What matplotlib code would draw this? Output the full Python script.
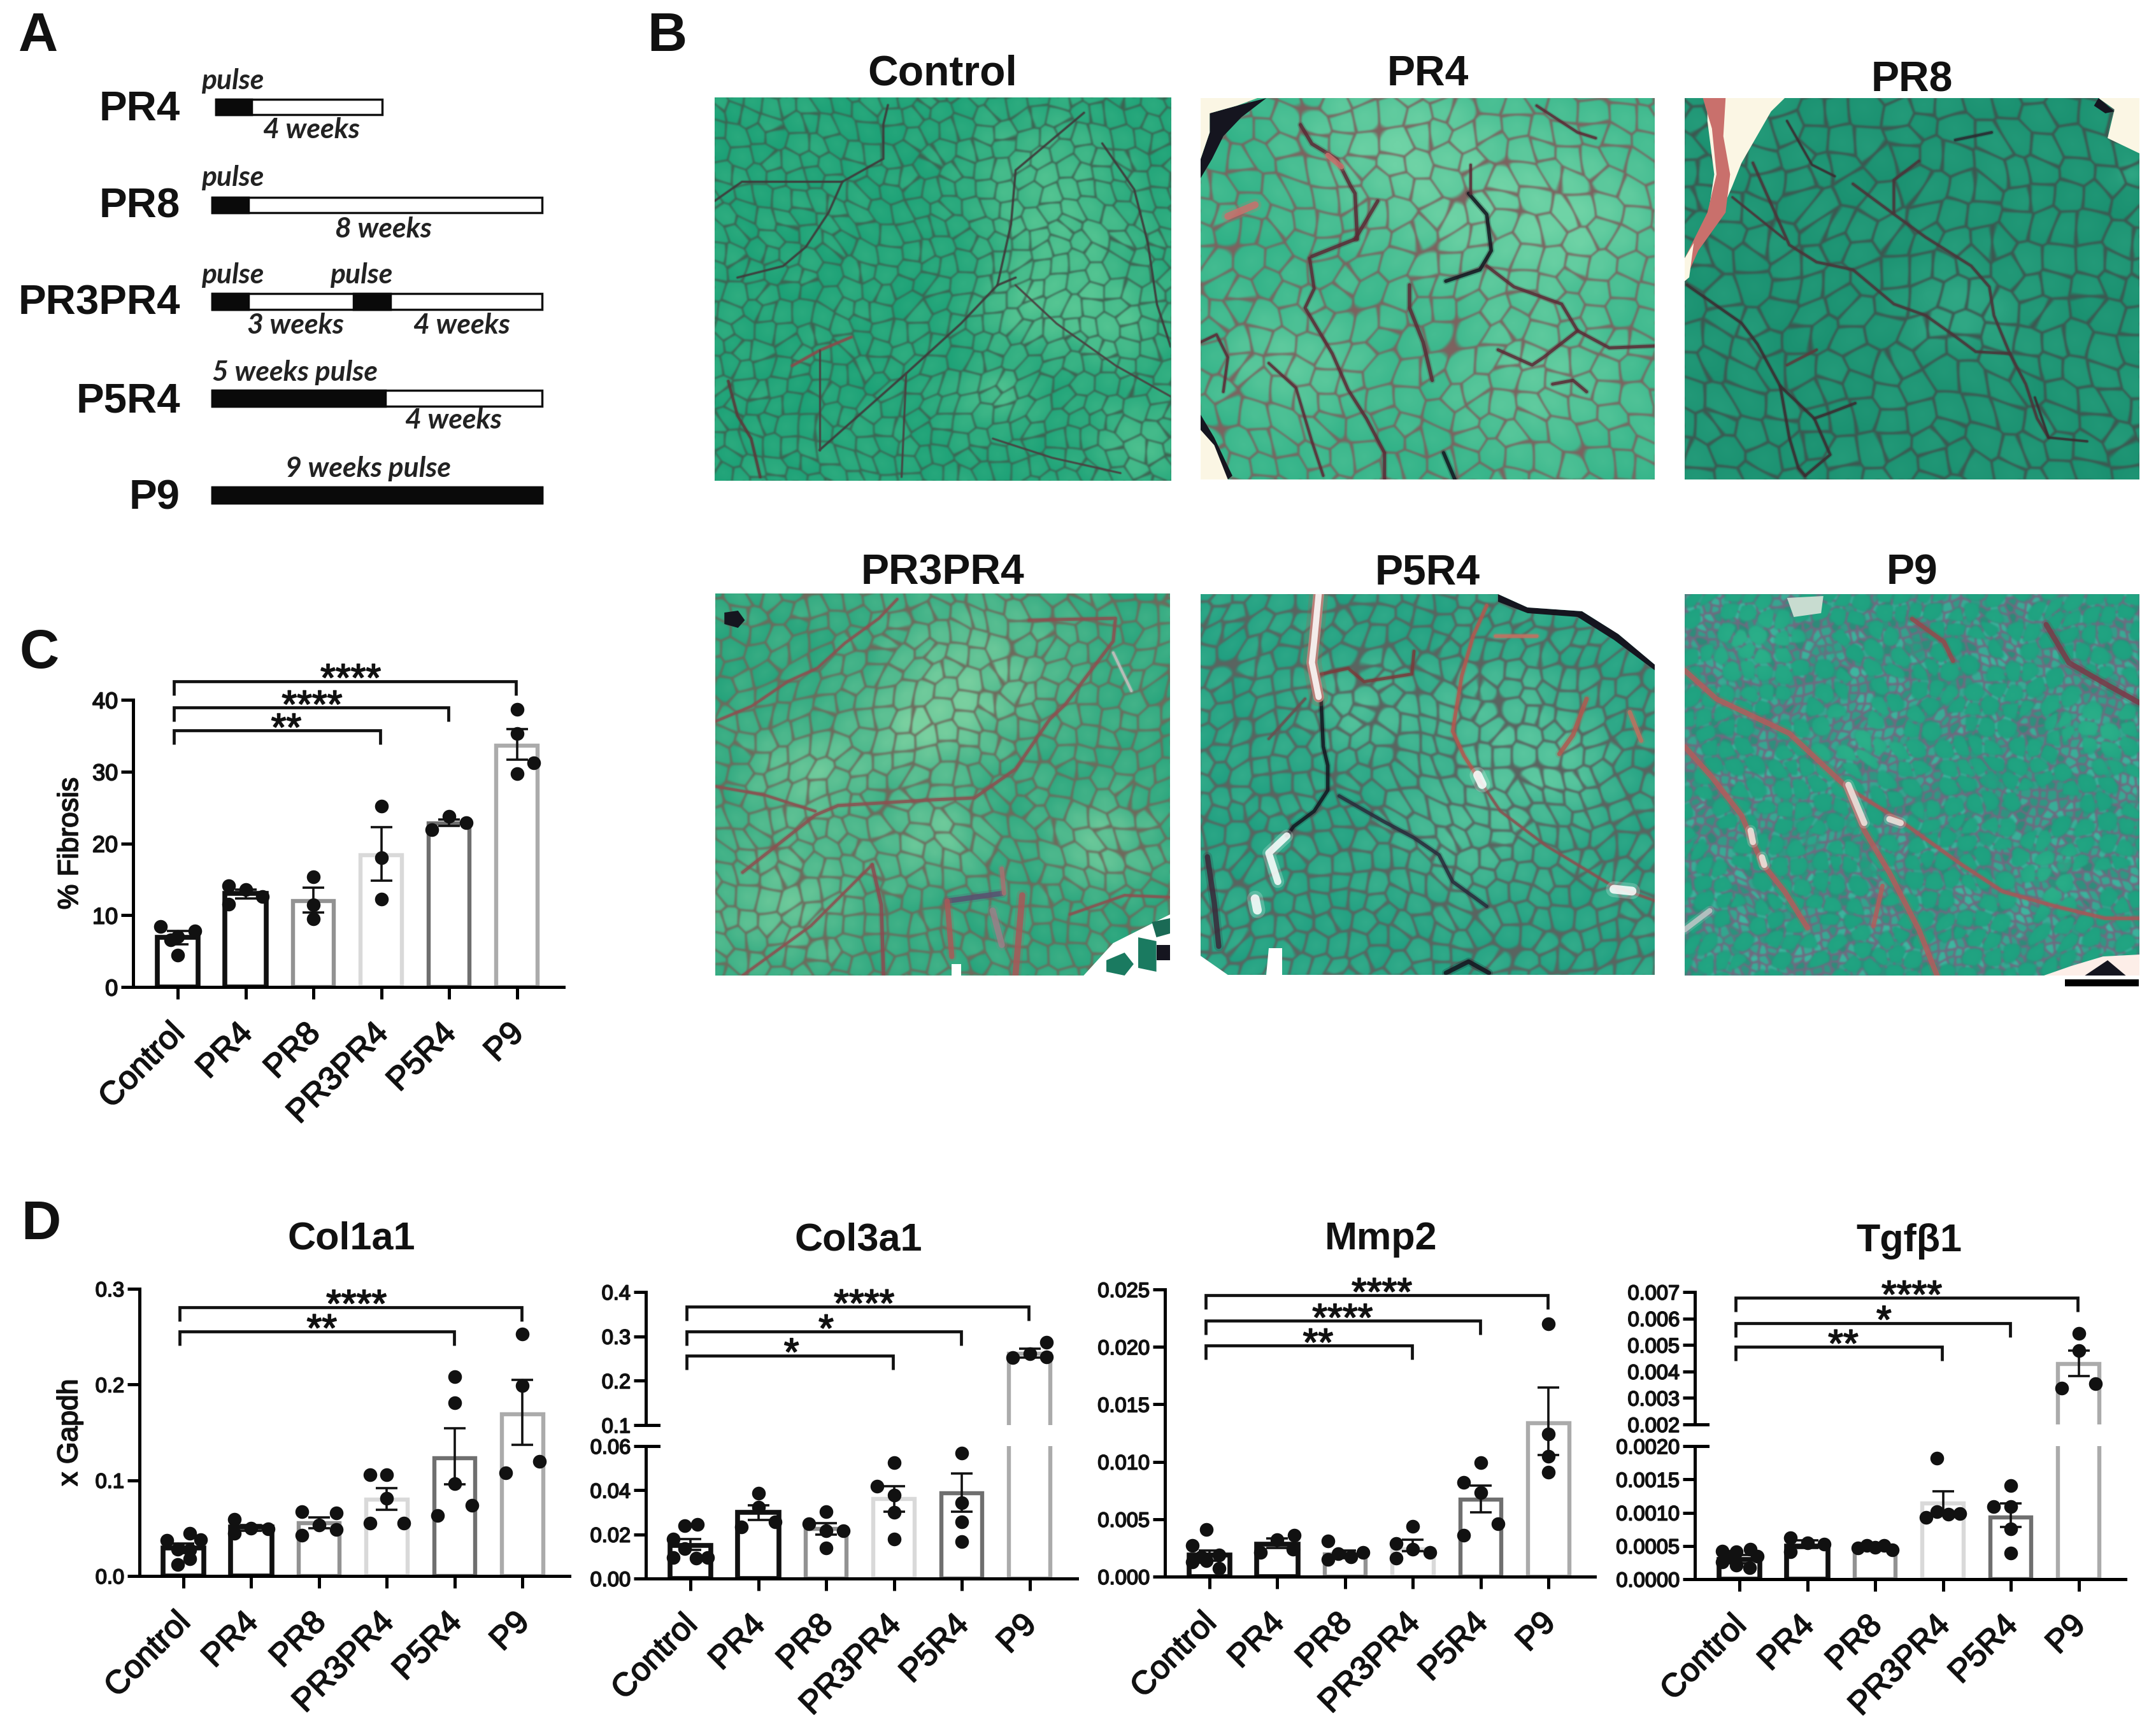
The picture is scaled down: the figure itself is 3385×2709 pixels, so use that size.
import numpy as np
import matplotlib
matplotlib.use('Agg')
import matplotlib.pyplot as plt
from matplotlib.patches import Polygon, Rectangle
from matplotlib.patheffects import withStroke
from matplotlib.ticker import FormatStrFormatter
from matplotlib.transforms import ScaledTranslation

W, H = 3385, 2709
plt.rcParams['font.family'] = ['Liberation Sans', 'DejaVu Sans']
INK = '#111111'
HEAVY = [withStroke(linewidth=1.3, foreground=INK)]

groups = ['Control', 'PR4', 'PR8', 'PR3PR4', 'P5R4', 'P9']
bar_colors = ['#111111', '#111111', '#929292', '#d9d9d9', '#6f6f6f', '#ababab']

# panel C, % fibrosis
c_means = [6.9, 13.0, 12.0, 18.4, 22.8, 33.6]
c_up = [7.8, 13.6, 13.8, 22.3, 23.3, 35.9]
c_low = [5.9, 12.3, 10.4, 14.8, 22.4, 31.7]
c_points = [[8.4, 7.8, 7.0, 6.6, 4.4], [14.1, 13.6, 12.6, 11.5], [15.3, 11.4, 9.5],
            [25.2, 18.0, 12.2], [23.8, 22.9, 21.9], [38.7, 35.3, 31.2, 29.7]]
c_offs = [[-.25, .25, 0, -.1, 0], [-.25, 0, .25, -.25], [0, 0, 0],
          [0, 0, 0], [0, .25, -.25], [0, 0, .25, 0]]

# panel D, x Gapdh
col1_means = [.029, .051, .055, .080, .123, .169]
col1_up = [.034, .053, .061, .092, .154, .205]
col1_low = [.024, .047, .050, .069, .096, .137]
col1_points = [[.037, .0445, .0376, .028, .027, .012, .018], [.059, .0445, .05, .049],
               [.0675, .066, .0535, .0485, .0427], [.106, .106, .081, .055, .0555],
               [.208, .181, .0967, .0737, .063], [.2525, .199, .12, .108]]
col1_offs = [[-.24, .09, .25, -.08, .09, -.08, .09], [-.25, -.25, 0, .25],
             [-.25, .25, 0, .25, -.25], [-.25, 0, 0, -.25, .25],
             [0, 0, 0, .25, -.25], [0, 0, .25, -.25]]

col3_means = [.0151, .030, .0225, .036, .0386, .261]
col3_up = [.0178, .0332, .0252, .0417, .0477, .2728]
col3_low = [.0131, .0265, .0198, .0302, .0302, .2516]
col3_points = [[.0178, .0238, .0244, .0135, .0094, .0091, .0094], [.0386, .0324, .0233, .0257],
               [.0304, .0249, .0217, .0217, .0139], [.0524, .0419, .0378, .0301, .0178],
               [.0567, .0343, .0257, .0167], [.2516, .261, .254, .287]]
col3_offs = [[-.25, -.08, .1, -.08, -.25, .08, .25], [0, 0, -.25, .25],
             [0, -.25, .25, 0, 0], [0, -.25, 0, 0, 0],
             [0, 0, 0, 0], [-.25, 0, .25, .25]]

mmp2_means = [.0019, .0028, .00195, .0024, .0067, .01338]
mmp2_up = [.00225, .0033, .0023, .0032, .0079, .01645]
mmp2_low = [.0014, .0025, .0016, .0022, .0056, .0106]
mmp2_points = [[.0041, .0027, .0019, .0014, .0013, .0007, .0017], [.0032, .0036, .0021, .0024],
               [.0031, .002, .0017, .0021, .0015], [.0044, .0029, .0024, .0021, .0016],
               [.0099, .0082, .0073, .0046, .0036], [.022, .0124, .0105, .0091]]
mmp2_offs = [[-.05, -.25, .14, -.05, -.25, .14, -.12], [0, .25, -.25, .23],
             [-.25, -.1, .08, .26, -.25], [0, -.25, 0, .25, -.25],
             [0, -.25, 0, .25, -.25], [0, 0, 0, 0]]

tgf_means = [.0003, .0005, .00047, .00114, .00093, .00428]
tgf_up = [.00036, .00058, .00051, .00132, .00114, .00479]
tgf_low = [.00024, .00047, .00043, .00097, .00078, .00382]
tgf_points = [[.00042, .00041, .00045, .00034, .00034, .00026, .00021, .00017],
              [.00062, .00055, .00053, .00041], [.00047, .00051, .00048, .00051, .00044],
              [.00182, .00093, .00101, .00098, .00099], [.00141, .00109, .00109, .00076, .00039],
              [.00543, .00478, .00337, .00353]]
tgf_offs = [[-.25, -.05, .16, -.12, .26, -.25, -.05, .15], [-.25, 0, .25, -.25],
            [-.25, -.12, 0, .13, .25], [-.09, -.25, -.09, .08, .25], [0, -.25, 0, 0, 0],
            [0, 0, -.25, .25]]

# brackets: right end group, height, stars, x of the stars
c_brackets = [(5, 42.6, '****', 2.55), (4, 38.9, '****', 1.98), (3, 35.7, '**', 1.6)]
col1_brackets = [(5, .281, '****', 2.55), (4, .2555, '**', 2.04)]
col3_brackets = [(5, .367, '****', 2.56), (4, .3105, '*', 2.0), (3, .257, '*', 1.49)]
mmp2_brackets = [(5, .0245, '****', 2.54), (4, .02226, '****', 1.96), (3, .0201, '**', 1.6)]
tgf_brackets = [(5, .00678, '****', 2.54), (4, .00583, '*', 2.13), (3, .00493, '**', 1.53)]

# schematic in panel A
scheme_rows = ['PR4', 'PR8', 'PR3PR4', 'P5R4', 'P9']
scheme_base = [189, 342, 494, 647, 799]

# micrographs of panel B
panel_names = ['Control', 'PR4', 'PR8', 'PR3PR4', 'P5R4', 'P9']
panel_box = [(1122, 1838, 153, 755), (1885, 2598, 154, 753), (2645, 3359, 154, 753),
             (1123, 1837, 932, 1532), (1885, 2598, 933, 1531), (2645, 3359, 933, 1532)]
panel_title_y = [134, 134, 143, 918, 918, 918]
panel_cell = [30, 40, 44, 32, 32, 30]
panel_edge_px = [2, 2.5, 3, 2.5, 3, 3]
panel_round = [1.0, .85, 1.0, .85, .8, .62]
panel_fine = [0, 0, 0, 0, 0, 14]
panel_base = ['#1ba076', '#2eb086', '#1a9070', '#24a27b', '#1f9e80', '#1c9e7e']
panel_light = ['#58c794', '#6fd3a6', '#38b08c', '#7ad0a0', '#5cc8a0', '#2fb48c']
panel_edge = ['#3f6050', '#7d625f', '#3e5650', '#6f6a5c', '#5a6460', '#6f6a80']
panel_patches = [[(.72, .2, .16), (.78, .42, .16), (.68, .55, .1), (.88, .6, .12), (.92, .9, .1), (.62, .78, .08)],
                 [(.6, .3, .25), (.75, .75, .2), (.2, .7, .15), (.85, .3, .18), (.4, .1, .2)],
                 [(.6, .55, .12), (.98, .2, .03)],
                 [(.58, .2, .2), (.2, .47, .13), (.45, .35, .14), (.15, .8, .18), (.85, .65, .12), (.48, .63, .12)],
                 [(.35, .3, .12), (.6, .6, .2), (.65, .3, .15), (.8, .45, .12)],
                 [(.15, .13, .1), (.38, .38, .1), (.9, .35, .08), (.8, .75, .08)]]

RED = '#a8494f'
DARK = '#5c2a35'
BLK = '#15151f'
PINK = '#c9706c'
panel_fibres = {
    'Control': [(2.2, '#3f3a3a', [(.23, .92), (.42, .72), (.54, .59), (.62, .49), (.66, .47)]),
                (2.2, '#3f3a3a', [(.62, .49), (.65, .33), (.66, .19), (.81, .04)]),
                (2.2, '#3f3a3a', [(.85, .12), (.92, .24), (.95, .38), (.97, .54), (1, .65)]),
                (2.2, '#3f3a3a', [(0, .27), (.06, .22), (.23, .22), (.28, .22), (.37, .16), (.37, .07), (.38, .02)]),
                (2.2, '#3f3a3a', [(.28, .22), (.25, .30), (.2, .39), (.15, .44), (.05, .47)]),
                (3, '#8a4a4a', [(.17, .7), (.23, .66), (.3, .625)]),
                (3, '#5a3a3a', [(.03, .74), (.05, .83), (.08, .89), (.1, .99)]),
                (2, '#4a4040', [(.66, .49), (.75, .59), (.88, .70), (1, .78)]),
                (2, '#4a4040', [(.23, .66), (.23, .92)]),
                (2, '#4a4040', [(.42, .72), (.41, .99)]),
                (2, '#4a4040', [(.61, .89), (.74, .94), (.89, .98)])],
    'PR4': [(4, DARK, [(.22, .07), (.245, .12), (.3, .16), (.33, .23), (.34, .25), (.345, .37)]),
            (4, DARK, [(.34, .37), (.39, .27)]),
            (4, DARK, [(.34, .37), (.245, .415)]),
            (3.5, DARK, [(.24, .42), (.25, .5), (.23, .55), (.29, .67), (.325, .765), (.365, .84), (.405, .93), (.405, 1)]),
            (4, DARK, [(.46, .49), (.46, .55), (.49, .64), (.51, .74)]),
            (4, BLK, [(.59, .25), (.63, .305), (.64, .4), (.615, .45), (.54, .48)]),
            (3.5, DARK, [(.63, .44), (.69, .495), (.795, .54), (.83, .61), (.9, .655), (1, .65)]),
            (3, DARK, [(0, .64), (.035, .62), (.06, .68), (.05, .77)]),
            (3, DARK, [(.15, .695), (.21, .76), (.245, .9), (.27, .99)]),
            (3.5, DARK, [(.83, .61), (.755, .68), (.73, .7), (.655, .66)]),
            (3, DARK, [(.595, .175), (.595, .25)]),
            (3.5, DARK, [(.775, .75), (.82, .74), (.85, .77)]),
            (4, BLK, [(.535, .93), (.56, 1)]),
            (3, DARK, [(.74, .02), (.83, .09), (.87, .105)]),
            (8, PINK, [(.06, .31), (.12, .28)]),
            (6, PINK, [(.28, .15), (.31, .18)])],
    'PR8': [(3, '#4a3438', [(.37, .225), (.455, .3), (.53, .365), (.63, .44), (.67, .495), (.68, .57), (.715, .67), (.75, .75), (.775, .84), (.8, .89)]),
            (3, '#4a3438', [(.15, .17), (.23, .385), (.29, .43), (.37, .45), (.46, .54), (.53, .57), (.595, .625), (.64, .665), (.715, .67)]),
            (2.5, '#4a3438', [(.105, .26), (.22, .37)]),
            (3, '#3a2c30', [(.005, .49), (.125, .59), (.16, .645), (.21, .755), (.285, .84), (.32, .825), (.375, .8)]),
            (3, '#3a2c30', [(.21, .755), (.23, .89), (.25, .97), (.265, .99)]),
            (3, '#3a2c30', [(.285, .84), (.32, .935), (.265, .99)]),
            (3, '#4a3438', [(.515, .165), (.46, .215), (.46, .3)]),
            (2.5, '#3a2c30', [(.77, .785), (.8, .89), (.885, .9)]),
            (3, '#5a3c3c', [(.225, .7), (.29, .66)]),
            (3, '#2a2a30', [(.595, .11), (.675, .09)]),
            (2.5, '#3a2c30', [(.225, .06), (.28, .175), (.33, .205)])],
    'PR3PR4': [(3, '#8c5050', [(0, .335), (.08, .295), (.16, .23), (.225, .195), (.285, .13), (.36, .065), (.4, .015)]),
               (3.5, '#8c5050', [(.06, .73), (.22, .58), (.27, .555), (.48, .54), (.57, .535), (.66, .46), (.735, .33), (.77, .29), (.875, .125), (.88, .065), (.69, .07)]),
               (3, '#8c5050', [(0, .505), (.107, .527), (.22, .57)]),
               (4, '#8c4a50', [(.345, .71), (.365, .815), (.37, 1)]),
               (6, '#5a5070', [(.51, .805), (.63, .785)]),
               (6, '#a85a58', [(.51, .805), (.52, .95)]),
               (7, '#a85858', [(.675, .79), (.66, 1)]),
               (5, '#a87070', [(.63, .72), (.635, .785)]),
               (7, '#9a8088', [(.61, .83), (.63, .92)]),
               (3, '#8c5050', [(.06, 1), (.21, .87), (.345, .71)]),
               (3, '#8c5050', [(1, .795), (.9, .79), (.78, .84)]),
               (3, '#c9c0c0', [(.875, .155), (.915, .255)])],
    'P5R4': [(4, BLK, [(.265, .27), (.27, .4), (.28, .45), (.28, .515), (.25, .57), (.205, .61), (.19, .635)]),
             (4, '#b5564e', [(.63, .03), (.6, .11), (.575, .215), (.555, .36), (.58, .425), (.615, .49)]),
             (3, '#8a5050', [(.615, .49), (.66, .57), (.76, .66), (.905, .765), (1, .805)]),
             (4, '#2a2a3a', [(.305, .53), (.4, .595), (.47, .64), (.525, .685), (.555, .755), (.63, .82)]),
             (3.5, '#7a3a3a', [(.265, .21), (.325, .195), (.36, .23), (.465, .21), (.47, .15)]),
             (4, '#c87060', [(.65, .11), (.74, .11)]),
             (5, '#b05a50', [(.85, .275), (.82, .37), (.79, .42)]),
             (5, '#c0705f', [(.945, .31), (.97, .385)]),
             (3, '#6a5050', [(.15, .38), (.23, .275)]),
             (5, BLK, [(.54, .995), (.59, .965), (.635, .995)]),
             (6, '#3a2a3a', [(.015, .69), (.03, .81), (.04, .925)]),
             (12, '#b5564e', [(.26, 0), (.25, .125), (.245, .18), (.26, .27)]),
             (7, 'white', [(.26, 0), (.25, .125), (.245, .18), (.26, .27)]),
             (8, 'white', [(.19, .635), (.15, .68), (.17, .755)]),
             (10, 'white', [(.12, .8), (.125, .83)]),
             (10, 'white', [(.91, .775), (.95, .78)]),
             (10, 'white', [(.61, .475), (.62, .5)])],
    'P9': [(6, '#b25c5c', [(0, .2), (.07, .275), (.23, .365), (.355, .505), (.395, .62), (.45, .73), (.515, .88), (.555, 1)]),
           (6, '#b25c5c', [(0, .4), (.06, .48), (.125, .58), (.15, .65), (.17, .705), (.22, .78), (.27, .875)]),
           (4, '#a85658', [(.355, .505), (.475, .595), (.61, .71), (.7, .78), (.82, .82), (.925, .85), (1, .85)]),
           (5, '#96484c', [(.5, .065), (.57, .125), (.59, .175)]),
           (6, '#7a3a48', [(.795, .08), (.845, .18), (.925, .235), (1, .285)]),
           (5, '#b25c5c', [(.435, .765), (.415, .87)]),
           (7, '#f4e6e0', [(.36, .5), (.395, .6)]),
           (7, '#f4e6e0', [(.145, .62), (.15, .65)]),
           (7, '#f4e6e0', [(.17, .69), (.175, .71)]),
           (7, '#f4e6e0', [(.45, .59), (.475, .6)]),
           (6, '#c0c8c8', [(0, .88), (.055, .83)])],
}
CREAM = '#fbf6e4'
panel_holes = {
    'Control': [],
    'PR4': [(BLK, [(.145, 0), (.09, .05), (.05, .1), (.025, .16), (0, .21), (0, .16), (.02, .09), (.02, .04), (.08, .02)]),
            (CREAM, [(0, 0), (.125, 0), (.08, .02), (.02, .04), (.02, .09), (0, .16)]),
            (BLK, [(0, .83), (.03, .89), (.07, .99), (.06, 1), (0, .88)]),
            (CREAM, [(0, .87), (.03, .91), (.06, 1), (0, 1)])],
    'PR8': [(CREAM, [(.05, 0), (.22, 0), (.19, .035), (.125, .17), (.105, .23), (.08, .3), (.05, .32), (.065, .2), (.05, .06)]),
            (PINK, [(.04, 0), (.09, 0), (.085, .1), (.1, .2), (.09, .3), (.03, .4), (0, .48), (0, .42), (.05, .3), (.07, .2), (.06, .08)]),
            (CREAM, [(0, .42), (.02, .38), (.01, .47), (0, .48)]),
            (CREAM, [(.91, 0), (.945, .03), (.93, .105), (1, .145), (1, 0)]),
            (BLK, [(.91, 0), (.945, .035), (.925, .04), (.9, .02)])],
    'PR3PR4': [(BLK, [(.02, .05), (.05, .045), (.065, .07), (.05, .09), (.02, .08)]),
               ('white', [(.81, 1), (.875, .915), (1, .84), (1, 1)]),
               ('#1a7a60', [(.86, .96), (.9, .94), (.92, .97), (.9, 1), (.86, .99)]),
               ('#1a7a60', [(.93, .9), (.97, .91), (.97, .99), (.93, .98)]),
               (BLK, [(.97, .92), (1, .92), (1, .96), (.97, .96)]),
               ('#1a6a55', [(.96, .86), (1, .85), (1, .89), (.97, .9)]),
               ('white', [(.52, .97), (.54, .97), (.54, 1), (.52, 1)])],
    'P5R4': [(BLK, [(.655, 0), (.72, .035), (.84, .045), (.92, .105), (1, .185), (1, .2), (.91, .12), (.83, .06), (.72, .05), (.655, .02)]),
             ('white', [(.655, 0), (.72, .035), (.84, .045), (.92, .105), (1, .185), (1, 0)]),
             ('white', [(0, .95), (.06, 1), (0, 1)]),
             ('white', [(.15, .93), (.18, .93), (.18, 1), (.145, 1)])],
    'P9': [('#c8dcd0', [(.225, .01), (.305, .005), (.3, .05), (.24, .06)]),
           ('#fdeee8', [(.79, 1), (.85, .975), (.92, .95), (1, .945), (1, 1)]),
           (BLK, [(.88, 1), (.93, .96), (.97, 1)])],
}


def lattice(xs, ys, cell, seed):
    # nearest and second nearest point of a warped jittered lattice
    gx = (xs + 16 * np.sin(ys / 83. + seed) + 5 * np.sin(ys / 29. + 2 * seed)) / cell
    gy = (ys + 16 * np.sin(xs / 91. + seed) + 5 * np.sin(xs / 31. + 2 * seed)) / cell
    ix, iy = np.floor(gx), np.floor(gy)
    dists, vals = [], []
    for dx in (-1, 0, 1):
        for dy in (-1, 0, 1):
            cx, cy = ix + dx, iy + dy
            h1 = np.sin(cx * 12.9898 + cy * 78.233 + seed) * 43758.5453
            h2 = np.sin(cx * 39.346 + cy * 11.135 + seed) * 24634.6345
            h1, h2 = h1 - np.floor(h1), h2 - np.floor(h2)
            dists.append(np.hypot(cx + .15 + .7 * h1 - gx, cy + .15 + .7 * h2 - gy))
            vals.append(h2)
    dists, vals = np.array(dists), np.array(vals)
    order = np.argsort(dists, axis=0)
    near = np.take_along_axis(dists, order[:1], axis=0)[0]
    second = np.take_along_axis(dists, order[1:2], axis=0)[0]
    val = np.take_along_axis(vals, order[:1], axis=0)[0]
    return near, second, val


def tissue(w, h, cell, seed, base, light, edge, patches, edge_px, rad, fine):
    # cell pattern standing in for the photo, no data in it
    ys, xs = np.mgrid[0:h, 0:w].astype(float)
    near, second, val = lattice(xs, ys, cell, seed)
    t = edge_px / float(cell)
    mask = np.clip((second - near - .3 * t) / (1.6 * t), 0, 1) * np.clip((rad - near) / .16, 0, 1)

    base = np.array(matplotlib.colors.to_rgb(base))
    light = np.array(matplotlib.colors.to_rgb(light))
    edge = np.array(matplotlib.colors.to_rgb(edge))
    amount = .2 * val + .15 * np.clip(1 - near * 1.4, 0, 1)
    for px, py, r in patches:
        amount = amount + .55 * np.exp(-((xs / w - px) ** 2 + (ys / h - py) ** 2) / (r * r))
    amount = np.clip(amount, 0, 1)[..., None]
    img = base * (1 - amount) + light * amount
    img = img * (.88 + .12 * mask[..., None])
    back = np.ones_like(img) * edge
    if fine:
        # small fibres in a grey matrix, the big ones sit on top of them
        n2, s2, v2 = lattice(xs, ys, fine, seed + 3)
        m2 = np.clip((s2 - n2 - .1) / .25, 0, 1)[..., None]
        tiny = np.array(matplotlib.colors.to_rgb('#35a08c')) * (.85 + .3 * v2[..., None])
        back = edge * (1 - m2) + tiny * m2
        mask = mask * np.clip((val - .15) / .05, 0, 1)
    img = img * mask[..., None] + back * (1 - mask[..., None])
    # soften it a little, the source is a photo
    for n in range(2):
        for axis in (0, 1):
            img = (np.roll(img, 1, axis) + img + np.roll(img, -1, axis)) / 3.
    return np.clip(img, 0, 1)


def px_axes(fig, x0, x1, y_top, y_bottom):
    return fig.add_axes([x0 / W, 1 - y_bottom / H, (x1 - x0) / W, (y_bottom - y_top) / H])


def style_axis(ax, ylim, yticks, fmt, size):
    ax.set_ylim(*ylim)
    ax.set_yticks(yticks)
    ax.yaxis.set_major_formatter(FormatStrFormatter(fmt))
    ax.tick_params(axis='y', length=13.7, width=3.6, pad=3.5, labelsize=size, labelcolor=INK)
    ax.spines['left'].set_linewidth(3.6)
    ax.spines['bottom'].set_linewidth(3.6)
    ax.spines['right'].set_visible(False)
    ax.spines['top'].set_visible(False)
    ax.patch.set_alpha(0)
    for t in ax.get_yticklabels():
        t.set_path_effects(HEAVY)


def draw_bars(ax, means, up, low, points, offs, lo=None, hi=None):
    for i, m in enumerate(means):
        lw = 5.5 if i < 2 else 4.6
        ax.bar(i, m, width=.61, facecolor='white', edgecolor=bar_colors[i], linewidth=lw, zorder=2)
        if lo is None or lo <= m <= hi:
            ax.errorbar(i, m, yerr=[[m - low[i]], [up[i] - m]], color=INK, capsize=12.5,
                        elinewidth=2.6, capthick=2.6, zorder=4)
        for off, v in zip(offs[i], points[i]):
            if lo is None or lo <= v <= hi:
                ax.plot(i + off, v, 'o', color=INK, ms=15.5, mew=0, zorder=3, clip_on=False)


def draw_brackets(ax, brackets, leg):
    for end, y, stars, star_x in brackets:
        ax.plot([-.06, -.06, end - .01, end - .01], [y - leg, y, y, y - leg], color=INK,
                lw=3.4, solid_joinstyle='miter', solid_capstyle='butt', clip_on=False, zorder=5)
        ax.annotate(stars, (star_x, y), xytext=(0, -11), textcoords='offset points', ha='center',
                    va='baseline', fontsize=44, color=INK, annotation_clip=False, path_effects=HEAVY)


def x_labels(ax, fig):
    ax.set_xticks(range(6))
    ax.set_xticklabels(groups, rotation=45, ha='right', va='top', rotation_mode='anchor', fontsize=37, color=INK)
    ax.tick_params(axis='x', length=13.7, width=3.6, pad=21)
    shift = ScaledTranslation(-14 / 100., 0, fig.dpi_scale_trans)
    for t in ax.get_xticklabels():
        t.set_transform(t.get_transform() + shift)
        t.set_path_effects(HEAVY)


def single_panel(fig, x0, tick0, x1, top, bottom, ylim, yticks, fmt, size, data, brackets, leg):
    ax = px_axes(fig, x0, x1, top, bottom)
    ax.set_xlim((x0 - tick0) / 106.5, (x1 - tick0) / 106.5)
    style_axis(ax, ylim, yticks, fmt, size)
    draw_bars(ax, *data)
    draw_brackets(ax, brackets, leg)
    x_labels(ax, fig)
    return ax


def broken_panel(fig, x0, tick0, x1, rows, lim_low, lim_up, ticks_low, ticks_up, fmt_low, fmt_up, data, brackets, leg):
    # rows: upper top, upper bottom, lower top, lower bottom
    low_ax = px_axes(fig, x0, x1, rows[2], rows[3])
    up_ax = px_axes(fig, x0, x1, rows[0], rows[1])
    for ax in (low_ax, up_ax):
        ax.set_xlim((x0 - tick0) / 106.5, (x1 - tick0) / 106.5)
    style_axis(low_ax, lim_low, ticks_low, fmt_low, 23.5)
    style_axis(up_ax, lim_up, ticks_up, fmt_up, 23.5)
    draw_bars(low_ax, *data, lo=lim_low[0], hi=lim_low[1])
    draw_bars(up_ax, *data, lo=lim_up[0], hi=lim_up[1])
    up_ax.spines['bottom'].set_visible(False)
    up_ax.set_xticks([])
    draw_brackets(up_ax, brackets, leg)
    x_labels(low_ax, fig)
    # the two ticks at the axis break go through the spine
    low_ax.plot([0, .03], [lim_low[1]] * 2, color='black', lw=3.6, transform=low_ax.get_yaxis_transform(), clip_on=False)
    up_ax.plot([0, .03], [lim_up[0]] * 2, color='black', lw=3.6, transform=up_ax.get_yaxis_transform(), clip_on=False)
    return low_ax


fig = plt.figure(figsize=(W / 100., H / 100.), dpi=100)

over = fig.add_axes([0, 0, 1, 1])
over.set_xlim(0, W)
over.set_ylim(H, 0)
over.axis('off')

# panel letters
for letter, x, y in [('A', 29, 80), ('B', 1016, 80), ('C', 30, 1049), ('D', 33, 1946)]:
    over.text(x, y, letter, fontsize=62, fontweight='bold', color=INK, va='baseline')

# panel A
bar_spans = [(339, 600, 156, 180), (333, 851, 310, 334), (333, 851, 461, 486), (333, 851, 613, 638), (333, 851, 765, 790)]
black_spans = [[(339, 395)], [(333, 390)], [(333, 390), (555, 613)], [(333, 605)], [(333, 851)]]
for name, base_y, span, blacks in zip(scheme_rows, scheme_base, bar_spans, black_spans):
    over.text(283, base_y, name, fontsize=47, fontweight='bold', color=INK, ha='right', va='baseline')
    over.add_patch(Rectangle((span[0], span[2]), span[1] - span[0], span[3] - span[2], fc='white', ec=INK, lw=2.5))
    for b0, b1 in blacks:
        over.add_patch(Rectangle((b0, span[2]), b1 - b0, span[3] - span[2], fc='#0a0a0a', ec='#0a0a0a', lw=2.5))
scheme_texts = [('pulse', 316, 140), ('4 weeks', 413, 217), ('pulse', 316, 292), ('8 weeks', 526, 373),
                ('pulse', 316, 445), ('pulse', 518, 445), ('3 weeks', 388, 524), ('4 weeks', 649, 524),
                ('5 weeks pulse', 333, 598), ('4 weeks', 636, 673), ('9 weeks pulse', 448, 749)]
for s, x, y in scheme_texts:
    over.text(x, y, s, fontsize=32, family=['Lato', 'DejaVu Sans'], fontstyle='italic', fontweight='bold',
              color='#222222', va='baseline')

# panel B
for i, name in enumerate(panel_names):
    x0, x1, y0, y1 = panel_box[i]
    over.text((x0 + x1) / 2., panel_title_y[i], name, fontsize=47.5, fontweight='bold', color=INK,
              ha='center', va='baseline')
    ax = px_axes(fig, x0, x1, y0, y1)
    ax.imshow(tissue(x1 - x0, y1 - y0, panel_cell[i], i + 1.3, panel_base[i], panel_light[i], panel_edge[i],
                     panel_patches[i], panel_edge_px[i], panel_round[i], panel_fine[i]),
              extent=(0, 1, 1, 0), aspect='auto', interpolation='bilinear')
    for lw, color, pts in panel_fibres[name]:
        pts = np.array(pts)
        ax.plot(pts[:, 0], pts[:, 1], color=color, lw=lw * 1.8, alpha=.22, solid_capstyle='round')
        ax.plot(pts[:, 0], pts[:, 1], color=color, lw=lw, solid_joinstyle='round', solid_capstyle='round', alpha=.85)
    for color, pts in panel_holes[name]:
        ax.add_patch(Polygon(pts, closed=True, fc=color, ec='none'))
    ax.set_xlim(0, 1)
    ax.set_ylim(1, 0)
    ax.axis('off')
over.add_patch(Rectangle((3242, 1538), 116, 11, fc='black', ec='none'))

# panel C
ax_c = single_panel(fig, 209, 279, 885, 1099, 1550, (0, 40), [0, 10, 20, 30, 40], '%d', 26,
                    (c_means, c_up, c_low, c_points, c_offs), c_brackets, 1.95)
ax_c.set_ylabel('% Fibrosis', fontsize=32, labelpad=10, color=INK, path_effects=HEAVY)

# panel D
ax1 = single_panel(fig, 219, 288, 894, 2024, 2475, (0, .3), [0, .1, .2, .3], '%.1f', 23.5,
                   (col1_means, col1_up, col1_low, col1_points, col1_offs), col1_brackets, .0146)
ax1.set_ylabel('x Gapdh', fontsize=32, labelpad=14, color=INK, path_effects=HEAVY)
broken_panel(fig, 1014, 1084, 1691, (2029, 2238, 2271, 2479), (0, .06), (.1, .4),
             [0, .02, .04, .06], [.1, .2, .3, .4], '%.2f', '%.1f',
             (col3_means, col3_up, col3_low, col3_points, col3_offs), col3_brackets, .0316)
single_panel(fig, 1829, 1899, 2504, 2025, 2476, (0, .025), [0, .005, .01, .015, .02, .025], '%.3f', 23.5,
             (mmp2_means, mmp2_up, mmp2_low, mmp2_points, mmp2_offs), mmp2_brackets, .00122)
broken_panel(fig, 2661, 2731, 3337, (2029, 2237, 2271, 2480), (0, .002), (.002, .007),
             [0, .0005, .001, .0015, .002], [.002, .003, .004, .005, .006, .007], '%.4f', '%.3f',
             (tgf_means, tgf_up, tgf_low, tgf_points, tgf_offs), tgf_brackets, .00053)

for title, x, y in [('Col1a1', 552, 1961), ('Col3a1', 1348, 1964), ('Mmp2', 2168, 1962), ('Tgf\u03b21', 2997, 1965)]:
    over.text(x, y, title, fontsize=44, fontweight='bold', color=INK, ha='center', va='baseline')

fig.savefig('out.png', dpi=100)
